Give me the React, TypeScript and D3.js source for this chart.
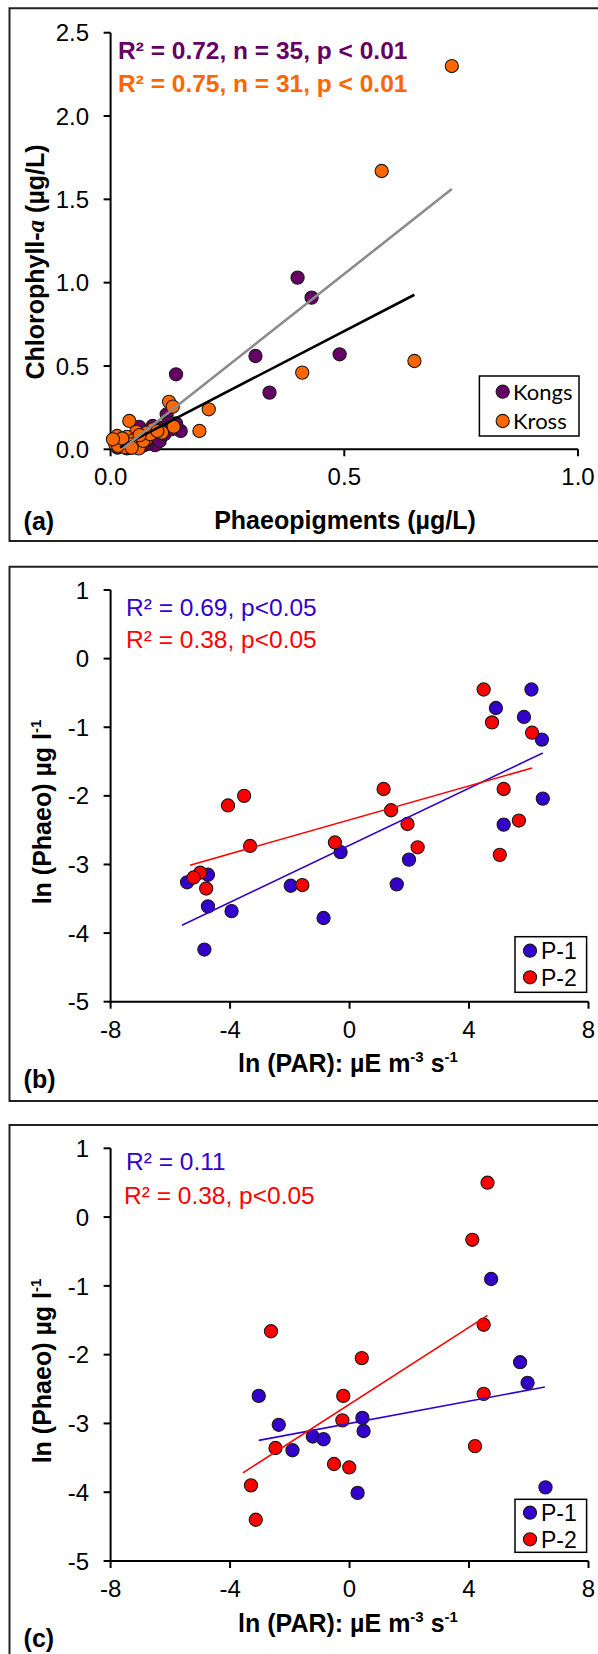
import React from 'react';
import * as d3 from 'd3';

// ---------- Panel (a) data ----------
const kongsPhaeo = [0.40,0.43,0.31,0.49,0.34,0.14,0.15,0.12,0.14,0.095,0.077,0.063,0.061,0.05,0.04,0.03,0.02,0.055,0.07,0.08,0.10,0.11,0.085,0.045,0.065,0.035,0.025,0.105,0.09,0.125,0.06,0.015,0.07,0.115,0.13];
const kongsChl = [1.03,0.91,0.56,0.57,0.34,0.45,0.11,0.21,0.155,0.025,0.03,0.125,0.135,0.02,0.04,0.06,0.02,0.08,0.09,0.06,0.08,0.13,0.11,0.01,0.015,0.005,0.035,0.05,0.14,0.16,0.045,0.01,0.025,0.09,0.12];
const krossPhaeo = [0.73,0.58,0.65,0.41,0.21,0.19,0.125,0.133,0.135,0.04,0.11,0.09,0.077,0.055,0.076,0.014,0.035,0.02,0.031,0.06,0.049,0.07,0.01,0.016,0.043,0.025,0.085,0.062,0.10,0.005,0.045];
const krossChl = [2.30,1.67,0.53,0.46,0.24,0.11,0.285,0.256,0.135,0.17,0.10,0.12,0.10,0.105,0.06,0.08,0.075,0.045,0.012,0.005,0.056,0.05,0.03,0.02,0.03,0.065,0.09,0.085,0.11,0.06,0.01];
const aXTicks = [0, 0.5, 1.0];
const aYTicks = [0, 0.5, 1.0, 1.5, 2.0, 2.5];
const kongsFit = { slope: 1.453, intercept: -0.017, from: 0.02, to: 0.65 };
const krossFit = { slope: 2.213, intercept: -0.054, from: 0.027, to: 0.73 };

// ---------- Panel (b) data ----------
const bP1Par = [4.90,6.09,5.84,6.44,6.47,5.16,-0.30,1.99,1.58,-1.97,-0.87,-4.74,-5.44,-4.74,-3.95,-4.86];
const bP1Phaeo = [-0.72,-0.45,-0.85,-1.18,-2.04,-2.42,-2.82,-2.93,-3.29,-3.31,-3.78,-3.15,-3.26,-3.61,-3.68,-4.24];
const bP2Par = [4.49,4.77,6.11,5.16,5.67,1.14,1.39,1.94,-4.07,-3.53,-3.33,-0.49,2.28,5.03,-1.58,-5.00,-5.22,-4.80];
const bP2Phaeo = [-0.45,-0.93,-1.08,-1.90,-2.36,-1.90,-2.21,-2.41,-2.14,-2.00,-2.73,-2.68,-2.75,-2.86,-3.30,-3.12,-3.19,-3.35];
const bP1Fit = { slope: 0.208, intercept: -2.72, from: -5.61, to: 6.47 };
const bP2Fit = { slope: 0.1237, intercept: -2.35, from: -5.34, to: 6.11 };

// ---------- Panel (c) data ----------
const cP1Par = [4.74,5.71,5.96,-3.04,-2.37,0.43,0.47,-1.23,-0.87,-1.91,0.27,6.56];
const cP1Phaeo = [-0.90,-2.11,-2.41,-2.60,-3.02,-2.92,-3.11,-3.19,-3.23,-3.39,-4.01,-3.93];
const cP2Par = [4.62,4.11,4.49,-2.63,0.41,-0.21,4.49,-0.24,-2.48,-0.52,-0.01,4.20,-3.30,-3.14];
const cP2Phaeo = [0.50,-0.33,-1.565,-1.66,-2.05,-2.60,-2.57,-2.955,-3.357,-3.59,-3.64,-3.33,-3.90,-4.40];
const cP1Fit = { slope: 0.081, intercept: -3.0, from: -3.04, to: 6.54 };
const cP2Fit = { slope: 0.2796, intercept: -2.72, from: -3.57, to: 4.62 };

const parXTicks = [-8, -4, 0, 4, 8];
const phaeoYTicks = [1, 0, -1, -2, -3, -4, -5];

const annotA = ['R² = 0.72, n = 35, p < 0.01', 'R² = 0.75, n = 31, p < 0.01'];
const annotB = ['R² = 0.69, p<0.05', 'R² = 0.38, p<0.05'];
const annotC = ['R² = 0.11', 'R² = 0.38, p<0.05'];

// ---------- styles ----------
const FONT = "'Liberation Sans', Arial, sans-serif";
const PURPLE = '#660066';
const ORANGE = '#ff6600';
const BLUE = '#3300cc';
const RED = '#ff0000';
const TICK_FS = 24;
const TITLE_FS = 25;

type Series = { xs: number[]; ys: number[]; fill: string };
type Fit = { slope: number; intercept: number; from: number; to: number; color: string; width: number };

interface PanelProps {
  frameTop: number;
  frameBottom: number;
  xDomain: [number, number];
  xRange: [number, number];
  yDomain: [number, number];
  yRange: [number, number];
  xTicks: number[];
  yTicks: number[];
  fmt: (v: number) => string;
  series: Series[];
  fits: Fit[];
  annots: { text: string; color: string; x: number; y: number; bold: boolean }[];
  legend: { x0: number; x1: number; y0: number; y1: number; mx: number; my: number[]; tx: number; labels: string[]; colors: string[]; font: string; fs: number };
  xTitle: React.ReactNode;
  xTitleX: number;
  xTitleY: number;
  yTitle: React.ReactNode;
  yTitleX: number;
  yTitleY: number;
  tag: string;
  tagY: number;
}

function Panel(p: PanelProps) {
  const x = d3.scaleLinear().domain(p.xDomain).range(p.xRange);
  const y = d3.scaleLinear().domain(p.yDomain).range(p.yRange);
  const axisY = y(p.yDomain[0]);
  const axisX = x(p.xDomain[0]);
  return (
    <g>
      <path d={`M620,${p.frameTop}H9.5V${p.frameBottom}H620`} fill="none" stroke="#222" strokeWidth={2} />
      {/* axes */}
      <line x1={axisX} x2={axisX} y1={y(p.yDomain[1])} y2={axisY} stroke="#000" strokeWidth={2} />
      <line x1={axisX} x2={x(p.xDomain[1])} y1={axisY} y2={axisY} stroke="#000" strokeWidth={2} />
      {p.yTicks.map((t) => (
        <g key={'y' + t}>
          <line x1={axisX - 7} x2={axisX} y1={y(t)} y2={y(t)} stroke="#000" strokeWidth={2} />
          <text x={89} y={y(t)} dy="0.36em" textAnchor="end" fontFamily={FONT} fontSize={TICK_FS} fill="#000">{p.fmt(t)}</text>
        </g>
      ))}
      {p.xTicks.map((t) => (
        <g key={'x' + t}>
          <line x1={x(t)} x2={x(t)} y1={axisY} y2={axisY + 7} stroke="#000" strokeWidth={2} />
          <text x={x(t)} y={axisY + 36} textAnchor="middle" fontFamily={FONT} fontSize={TICK_FS} fill="#000">{p.fmt(t)}</text>
        </g>
      ))}
      {/* points */}
      {p.series.map((s, si) => (
        <g key={'s' + si}>
          {s.xs.map((v, i) => (
            <circle key={i} cx={x(v)} cy={y(s.ys[i])} r={6.6} fill={s.fill} stroke="#1a1a1a" strokeWidth={1.1} />
          ))}
        </g>
      ))}
      {/* fits */}
      {p.fits.map((f, fi) => (
        <line key={'f' + fi} x1={x(f.from)} y1={y(f.slope * f.from + f.intercept)} x2={x(f.to)} y2={y(f.slope * f.to + f.intercept)} stroke={f.color} strokeWidth={f.width} />
      ))}
      {/* annotations */}
      {p.annots.map((a, ai) => (
        <text key={'a' + ai} x={a.x} y={a.y} fontFamily={FONT} fontSize={24.5} fontWeight={a.bold ? 'bold' : 'normal'} fill={a.color}>{a.text}</text>
      ))}
      {/* legend */}
      <rect x={p.legend.x0} y={p.legend.y0} width={p.legend.x1 - p.legend.x0} height={p.legend.y1 - p.legend.y0} fill="#fff" stroke="#000" strokeWidth={1.5} />
      {p.legend.labels.map((l, li) => (
        <g key={'l' + li}>
          <circle cx={p.legend.mx} cy={p.legend.my[li]} r={6.6} fill={p.legend.colors[li]} stroke="#1a1a1a" strokeWidth={1.1} />
          <text x={p.legend.tx} y={p.legend.my[li]} dy="0.36em" fontFamily={p.legend.font} fontSize={p.legend.fs} fill="#000">{l}</text>
        </g>
      ))}
      {/* titles */}
      <text x={p.xTitleX} y={p.xTitleY} textAnchor="middle" fontFamily={FONT} fontSize={TITLE_FS} fontWeight="bold" fill="#000">{p.xTitle}</text>
      <text transform={`translate(${p.yTitleX},${p.yTitleY}) rotate(-90)`} textAnchor="middle" fontFamily={FONT} fontSize={TITLE_FS} fontWeight="bold" fill="#000">{p.yTitle}</text>
      <text x={23.6} y={p.tagY} fontFamily={FONT} fontSize={TITLE_FS} fontWeight="bold" fill="#000">{p.tag}</text>
    </g>
  );
}

const parTitle = (
  <>
    ln (PAR): µE m<tspan dy={-10} fontSize={15}>-3</tspan><tspan dy={10}> s</tspan><tspan dy={-10} fontSize={15}>-1</tspan>
  </>
);
const phaeoTitle = (
  <>
    ln (Phaeo) µg l<tspan dy={-10} fontSize={15}>-1</tspan>
  </>
);
const chlTitle = (
  <>
    Chlorophyll-<tspan fontFamily="'Liberation Serif', 'Times New Roman', serif" fontStyle="italic">a</tspan> (µg/L)
  </>
);

export default function App() {
  const f1 = (v: number) => v.toFixed(1);
  const f0 = (v: number) => String(v);
  return (
    <svg width={598} height={1654} style={{ position: 'absolute', left: 0, top: 0, background: '#fff' }}>
      <rect x={0} y={0} width={598} height={1654} fill="#fff" />
      <Panel
        frameTop={8.3}
        frameBottom={541}
        xDomain={[0, 1]}
        xRange={[110.6, 578]}
        yDomain={[0, 2.5]}
        yRange={[449.3, 32.7]}
        xTicks={aXTicks}
        yTicks={aYTicks}
        fmt={f1}
        series={[
          { xs: kongsPhaeo, ys: kongsChl, fill: PURPLE },
          { xs: krossPhaeo, ys: krossChl, fill: ORANGE },
        ]}
        fits={[
          { ...kongsFit, color: '#000', width: 2.6 },
          { ...krossFit, color: '#8c8c8c', width: 2.6 },
        ]}
        annots={[
          { text: annotA[0], color: PURPLE, x: 118, y: 59.3, bold: true },
          { text: annotA[1], color: ORANGE, x: 118, y: 91.7, bold: true },
        ]}
        legend={{ x0: 479.4, x1: 579, y0: 376, y1: 436, mx: 502.7, my: [391.7, 421], tx: 513, labels: ['Kongs', 'Kross'], colors: [PURPLE, ORANGE], font: "Lato, 'Open Sans', sans-serif", fs: 22 }}
        xTitle="Phaeopigments (µg/L)"
        xTitleX={345}
        xTitleY={529}
        yTitle={chlTitle}
        yTitleX={44}
        yTitleY={262}
        tag="(a)"
        tagY={530}
      />
      <Panel
        frameTop={566.7}
        frameBottom={1101}
        xDomain={[-8, 8]}
        xRange={[110.6, 588.5]}
        yDomain={[-5, 1]}
        yRange={[1001.7, 590]}
        xTicks={parXTicks}
        yTicks={phaeoYTicks}
        fmt={f0}
        series={[
          { xs: bP1Par, ys: bP1Phaeo, fill: BLUE },
          { xs: bP2Par, ys: bP2Phaeo, fill: RED },
        ]}
        fits={[
          { ...bP1Fit, color: BLUE, width: 1.6 },
          { ...bP2Fit, color: RED, width: 1.6 },
        ]}
        annots={[
          { text: annotB[0], color: BLUE, x: 126, y: 616, bold: false },
          { text: annotB[1], color: RED, x: 126, y: 648.3, bold: false },
        ]}
        legend={{ x0: 515, x1: 586.6, y0: 936.7, y1: 992.3, mx: 530, my: [950.7, 977.3], tx: 541, labels: ['P-1', 'P-2'], colors: [BLUE, RED], font: FONT, fs: 23 }}
        xTitle={parTitle}
        xTitleX={348}
        xTitleY={1071.7}
        yTitle={phaeoTitle}
        yTitleX={51}
        yTitleY={812}
        tag="(b)"
        tagY={1088}
      />
      <Panel
        frameTop={1125}
        frameBottom={1670}
        xDomain={[-8, 8]}
        xRange={[110.6, 588.5]}
        yDomain={[-5, 1]}
        yRange={[1561, 1148.3]}
        xTicks={parXTicks}
        yTicks={phaeoYTicks}
        fmt={f0}
        series={[
          { xs: cP1Par, ys: cP1Phaeo, fill: BLUE },
          { xs: cP2Par, ys: cP2Phaeo, fill: RED },
        ]}
        fits={[
          { ...cP1Fit, color: BLUE, width: 1.6 },
          { ...cP2Fit, color: RED, width: 1.6 },
        ]}
        annots={[
          { text: annotC[0], color: BLUE, x: 126, y: 1170, bold: false },
          { text: annotC[1], color: RED, x: 124, y: 1204, bold: false },
        ]}
        legend={{ x0: 515, x1: 586.6, y0: 1499.3, y1: 1552.3, mx: 530, my: [1512.7, 1539.3], tx: 541, labels: ['P-1', 'P-2'], colors: [BLUE, RED], font: FONT, fs: 23 }}
        xTitle={parTitle}
        xTitleX={348}
        xTitleY={1631.7}
        yTitle={phaeoTitle}
        yTitleX={51}
        yTitleY={1371}
        tag="(c)"
        tagY={1647}
      />
    </svg>
  );
}
